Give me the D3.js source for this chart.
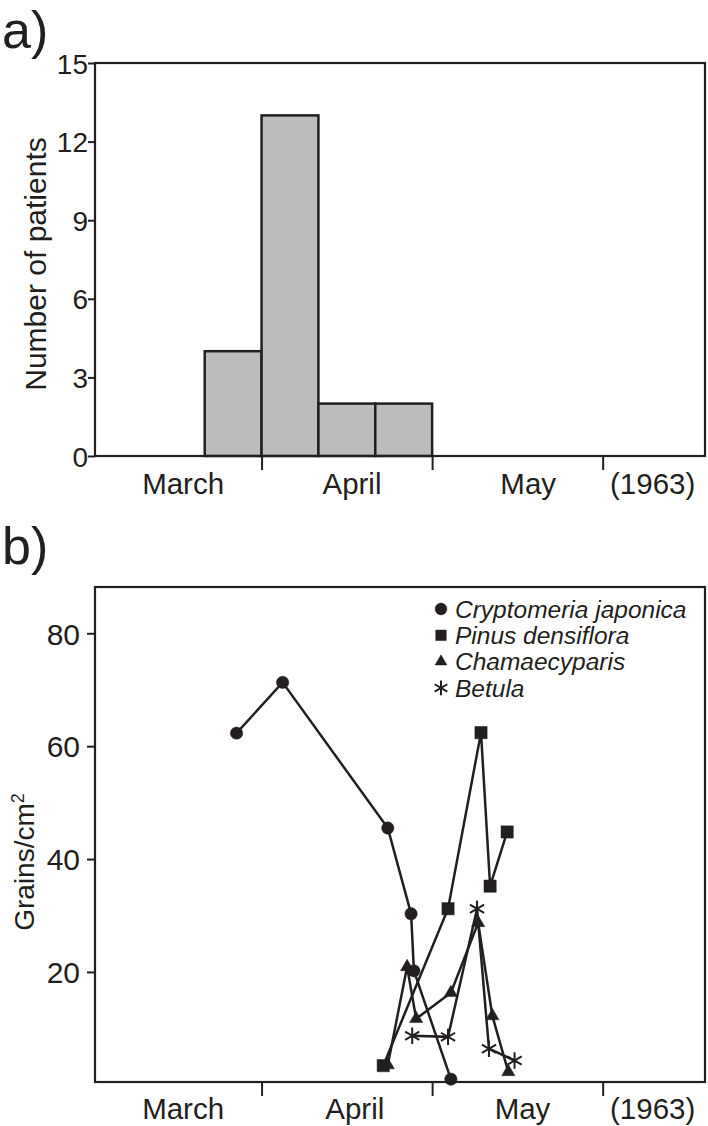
<!DOCTYPE html>
<html>
<head>
<meta charset="utf-8">
<script src="https://cdn.jsdelivr.net/npm/d3@7"></script>
<style>
  body { margin: 0; background: #fff; }
  svg text { font-family: "Liberation Sans", Arial, sans-serif; fill: #231f20; }
</style>
</head>
<body>
<svg id="chart" width="708" height="1126"></svg>
<script>
// x positions are days counted from 1 March, 30 days per month
let monthTicks = [30, 60, 90];
let monthNames = ["March", "April", "May", "(1963)"];
let monthPosA = [16.2, 45.9, 76.9, 98.8];
let monthPosB = [16.2, 46.4, 75.9, 98.8];

// a) patients per ten-day period
let barStart = [20, 30, 40, 50];
let barEnd = [30, 40, 50, 60];
let patients = [4, 13, 2, 2];
let patientTicks = [0, 3, 6, 9, 12, 15];

// b) pollen counts
let grainTicks = [20, 40, 60, 80];
let speciesNames = ["Cryptomeria japonica", "Pinus densiflora", "Chamaecyparis", "Betula"];
let cryptoDay = [25.6, 33.7, 52.2, 56.3, 56.8, 63.3];
let cryptoVal = [62.3, 71.3, 45.5, 30.3, 20.2, 1.0];
let pinusDay = [51.4, 62.8, 68.6, 70.2, 73.2];
let pinusVal = [3.4, 31.2, 62.4, 35.2, 44.8];
let chamDay = [52.2, 55.6, 57.2, 63.3, 68.1, 70.6, 73.4];
let chamVal = [3.5, 20.9, 11.7, 16.3, 28.7, 12.2, 2.3];
let betulaDay = [56.5, 62.8, 67.9, 70.0, 74.5];
let betulaVal = [8.7, 8.5, 31.2, 6.4, 4.3];

const ink = "#231f20";
let svg = d3.select("#chart");

let xScale = d3.scaleLinear().domain([0.7, 108.0]).range([95, 705]);

// ---------- panel a ----------
let yA = d3.scaleLinear().domain([0, 15]).range([456, 63]);
let gA = svg.append("g");

gA.append("text").text("a)")
  .attr("x", 2).attr("y", 48)
  .style("font-size", "52px");

gA.selectAll(".bar")
  .data(patients)
  .join("rect")
  .attr("class", "bar")
  .attr("x", (d, i) => xScale(barStart[i]))
  .attr("width", (d, i) => xScale(barEnd[i]) - xScale(barStart[i]))
  .attr("y", d => yA(d))
  .attr("height", d => yA(0) - yA(d))
  .attr("fill", "#bcbcbc")
  .attr("stroke", ink)
  .attr("stroke-width", 2.5);

gA.append("rect")
  .attr("x", 95).attr("y", 63).attr("width", 610).attr("height", 393)
  .attr("fill", "none").attr("stroke", ink).attr("stroke-width", 2.2);

gA.append("g")
  .attr("transform", "translate(95,0)")
  .call(d3.axisLeft(yA).tickValues(patientTicks).tickSize(7).tickPadding(0).tickSizeOuter(0))
  .call(g => g.select(".domain").remove())
  .call(g => g.selectAll("line").attr("stroke", ink).attr("stroke-width", 2))
  .call(g => g.selectAll("text").style("font-size", "28px").attr("dy", "0.36em").attr("fill", ink));

gA.append("g")
  .attr("transform", "translate(0,456)")
  .call(d3.axisBottom(xScale).tickValues(monthTicks).tickSize(14).tickFormat("").tickSizeOuter(0))
  .call(g => g.select(".domain").remove())
  .call(g => g.selectAll("line").attr("stroke", ink).attr("stroke-width", 2));

gA.selectAll(".month")
  .data(monthNames)
  .join("text")
  .attr("class", "month")
  .attr("x", (d, i) => xScale(monthPosA[i]))
  .attr("y", 494)
  .attr("text-anchor", "middle")
  .style("font-size", "29.5px")
  .text(d => d);

gA.append("text")
  .text("Number of patients")
  .attr("transform", "translate(46,264) rotate(-90)")
  .attr("text-anchor", "middle")
  .style("font-size", "30px");

// ---------- panel b ----------
let yB = d3.scaleLinear().domain([0.5, 88.2]).range([1082, 587]);
let gB = svg.append("g");

gB.append("text").text("b)")
  .attr("x", 2).attr("y", 564)
  .style("font-size", "52px");

gB.append("rect")
  .attr("x", 95).attr("y", 587).attr("width", 610).attr("height", 495)
  .attr("fill", "none").attr("stroke", ink).attr("stroke-width", 2.2);

gB.append("g")
  .attr("transform", "translate(95,0)")
  .call(d3.axisLeft(yB).tickValues(grainTicks).tickSize(8).tickPadding(7).tickSizeOuter(0))
  .call(g => g.select(".domain").remove())
  .call(g => g.selectAll("line").attr("stroke", ink).attr("stroke-width", 2))
  .call(g => g.selectAll("text").style("font-size", "30px").attr("dy", "0.36em").attr("fill", ink));

gB.append("g")
  .attr("transform", "translate(0,1082)")
  .call(d3.axisBottom(xScale).tickValues(monthTicks).tickSize(14).tickFormat("").tickSizeOuter(0))
  .call(g => g.select(".domain").remove())
  .call(g => g.selectAll("line").attr("stroke", ink).attr("stroke-width", 2));

gB.selectAll(".month")
  .data(monthNames)
  .join("text")
  .attr("class", "month")
  .attr("x", (d, i) => xScale(monthPosB[i]))
  .attr("y", 1119)
  .attr("text-anchor", "middle")
  .style("font-size", "29.5px")
  .text(d => d);

let gl = gB.append("text")
  .attr("transform", "translate(34,862) rotate(-90)")
  .attr("text-anchor", "middle")
  .style("font-size", "28px");
gl.append("tspan").text("Grains/cm");
gl.append("tspan").text("2").attr("dy", "-0.55em").style("font-size", "18px");

let series = [
  { days: cryptoDay, vals: cryptoVal, sym: d3.symbolCircle, size: 120 },
  { days: pinusDay, vals: pinusVal, sym: d3.symbolSquare, size: 150 },
  { days: chamDay, vals: chamVal, sym: d3.symbolTriangle, size: 75 },
  { days: betulaDay, vals: betulaVal, sym: d3.symbolAsterisk, size: 190 }
];

let line = d3.line().x(d => xScale(d[0])).y(d => yB(d[1]));

series.forEach(s => {
  let pts = s.days.map((d, i) => [d, s.vals[i]]);
  gB.append("path")
    .datum(pts)
    .attr("d", line)
    .attr("fill", "none")
    .attr("stroke", ink)
    .attr("stroke-width", 2.5);
});

series.forEach(s => {
  let pts = s.days.map((d, i) => [d, s.vals[i]]);
  let stroked = s.sym === d3.symbolAsterisk;
  gB.selectAll(null)
    .data(pts)
    .join("path")
    .attr("transform", d => "translate(" + xScale(d[0]) + "," + yB(d[1]) + ")")
    .attr("d", d3.symbol().type(s.sym).size(s.size))
    .attr("fill", stroked ? "none" : ink)
    .attr("stroke", ink)
    .attr("stroke-width", stroked ? 2 : 0.5);
});

// legend
let leg = gB.selectAll(".legend")
  .data(speciesNames)
  .join("g")
  .attr("class", "legend")
  .attr("transform", (d, i) => "translate(441," + (609 + i * 26.3) + ")");

leg.append("path")
  .attr("d", (d, i) => d3.symbol().type(series[i].sym).size(i === 3 ? 150 : (i === 2 ? 60 : 110))())
  .attr("fill", (d, i) => i === 3 ? "none" : ink)
  .attr("stroke", ink)
  .attr("stroke-width", (d, i) => i === 3 ? 2 : 0.5);

leg.append("text")
  .attr("x", 14)
  .attr("dy", "0.36em")
  .style("font-size", "24.5px")
  .style("font-style", "italic")
  .text(d => d);
</script>
</body>
</html>
